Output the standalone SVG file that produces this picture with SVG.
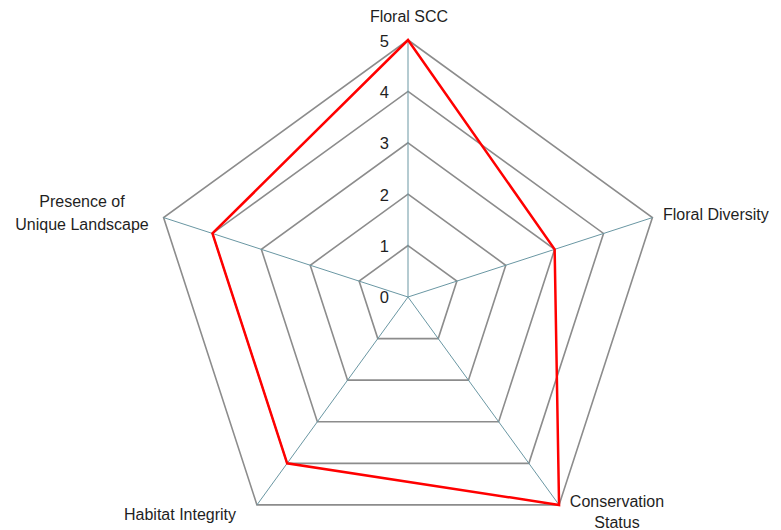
<svg xmlns="http://www.w3.org/2000/svg" width="781" height="530" viewBox="0 0 781 530">
<style>
.grid{fill:none;stroke:#8c8c8c;stroke-width:1.6;stroke-linejoin:miter}
.spoke{stroke:#6a97a3;stroke-width:1}
.series{fill:none;stroke:#ff0000;stroke-width:2.5;stroke-linejoin:miter}
text{font-family:"Liberation Sans",Arial,sans-serif;font-size:16px;fill:#1f1f1f}
.tick{text-anchor:end;font-size:16.5px}
.mid{text-anchor:middle}
</style>
<rect width="781" height="530" fill="#ffffff"/>
<g id="grid">
<polygon class="grid" points="408,245.6 456.88,281.12 438.21,338.58 377.79,338.58 359.12,281.12"/>
<polygon class="grid" points="408,194.2 505.77,265.23 468.43,380.17 347.57,380.17 310.23,265.23"/>
<polygon class="grid" points="408,142.8 554.65,249.35 498.64,421.75 317.36,421.75 261.35,249.35"/>
<polygon class="grid" points="408,91.4 603.54,233.46 528.85,463.33 287.15,463.33 212.46,233.46"/>
<polygon class="grid" points="408,40 652.42,217.58 559.06,504.92 256.94,504.92 163.58,217.58"/>
</g>
<g id="connectors">
<line class="spoke" x1="408" y1="297" x2="408" y2="40"/>
<line class="spoke" x1="408" y1="297" x2="652.42" y2="217.58"/>
<line class="spoke" x1="408" y1="297" x2="559.06" y2="504.92"/>
<line class="spoke" x1="408" y1="297" x2="256.94" y2="504.92"/>
<line class="spoke" x1="408" y1="297" x2="163.58" y2="217.58"/>
</g>
<g id="series">
<polygon class="series" points="408,40 554.65,249.35 559.06,504.92 287.15,463.33 212.46,233.46"/>
</g>
<g id="ticks">
<text class="tick" x="389" y="303">0</text>
<text class="tick" x="389" y="252">1</text>
<text class="tick" x="389" y="201">2</text>
<text class="tick" x="389" y="149">3</text>
<text class="tick" x="389" y="98">4</text>
<text class="tick" x="389" y="47">5</text>
</g>
<g id="axis-floral-scc"><text class="mid" x="409" y="22">Floral SCC</text></g>
<g id="axis-floral-diversity"><text x="663" y="220">Floral Diversity</text></g>
<g id="axis-conservation-status"><text class="mid" x="617" y="507">Conservation</text><text class="mid" x="617" y="528">Status</text></g>
<g id="axis-habitat-integrity"><text x="124" y="520">Habitat Integrity</text></g>
<g id="axis-unique-landscape"><text class="mid" x="82" y="207">Presence of</text><text class="mid" x="82" y="230">Unique Landscape</text></g>
</svg>
